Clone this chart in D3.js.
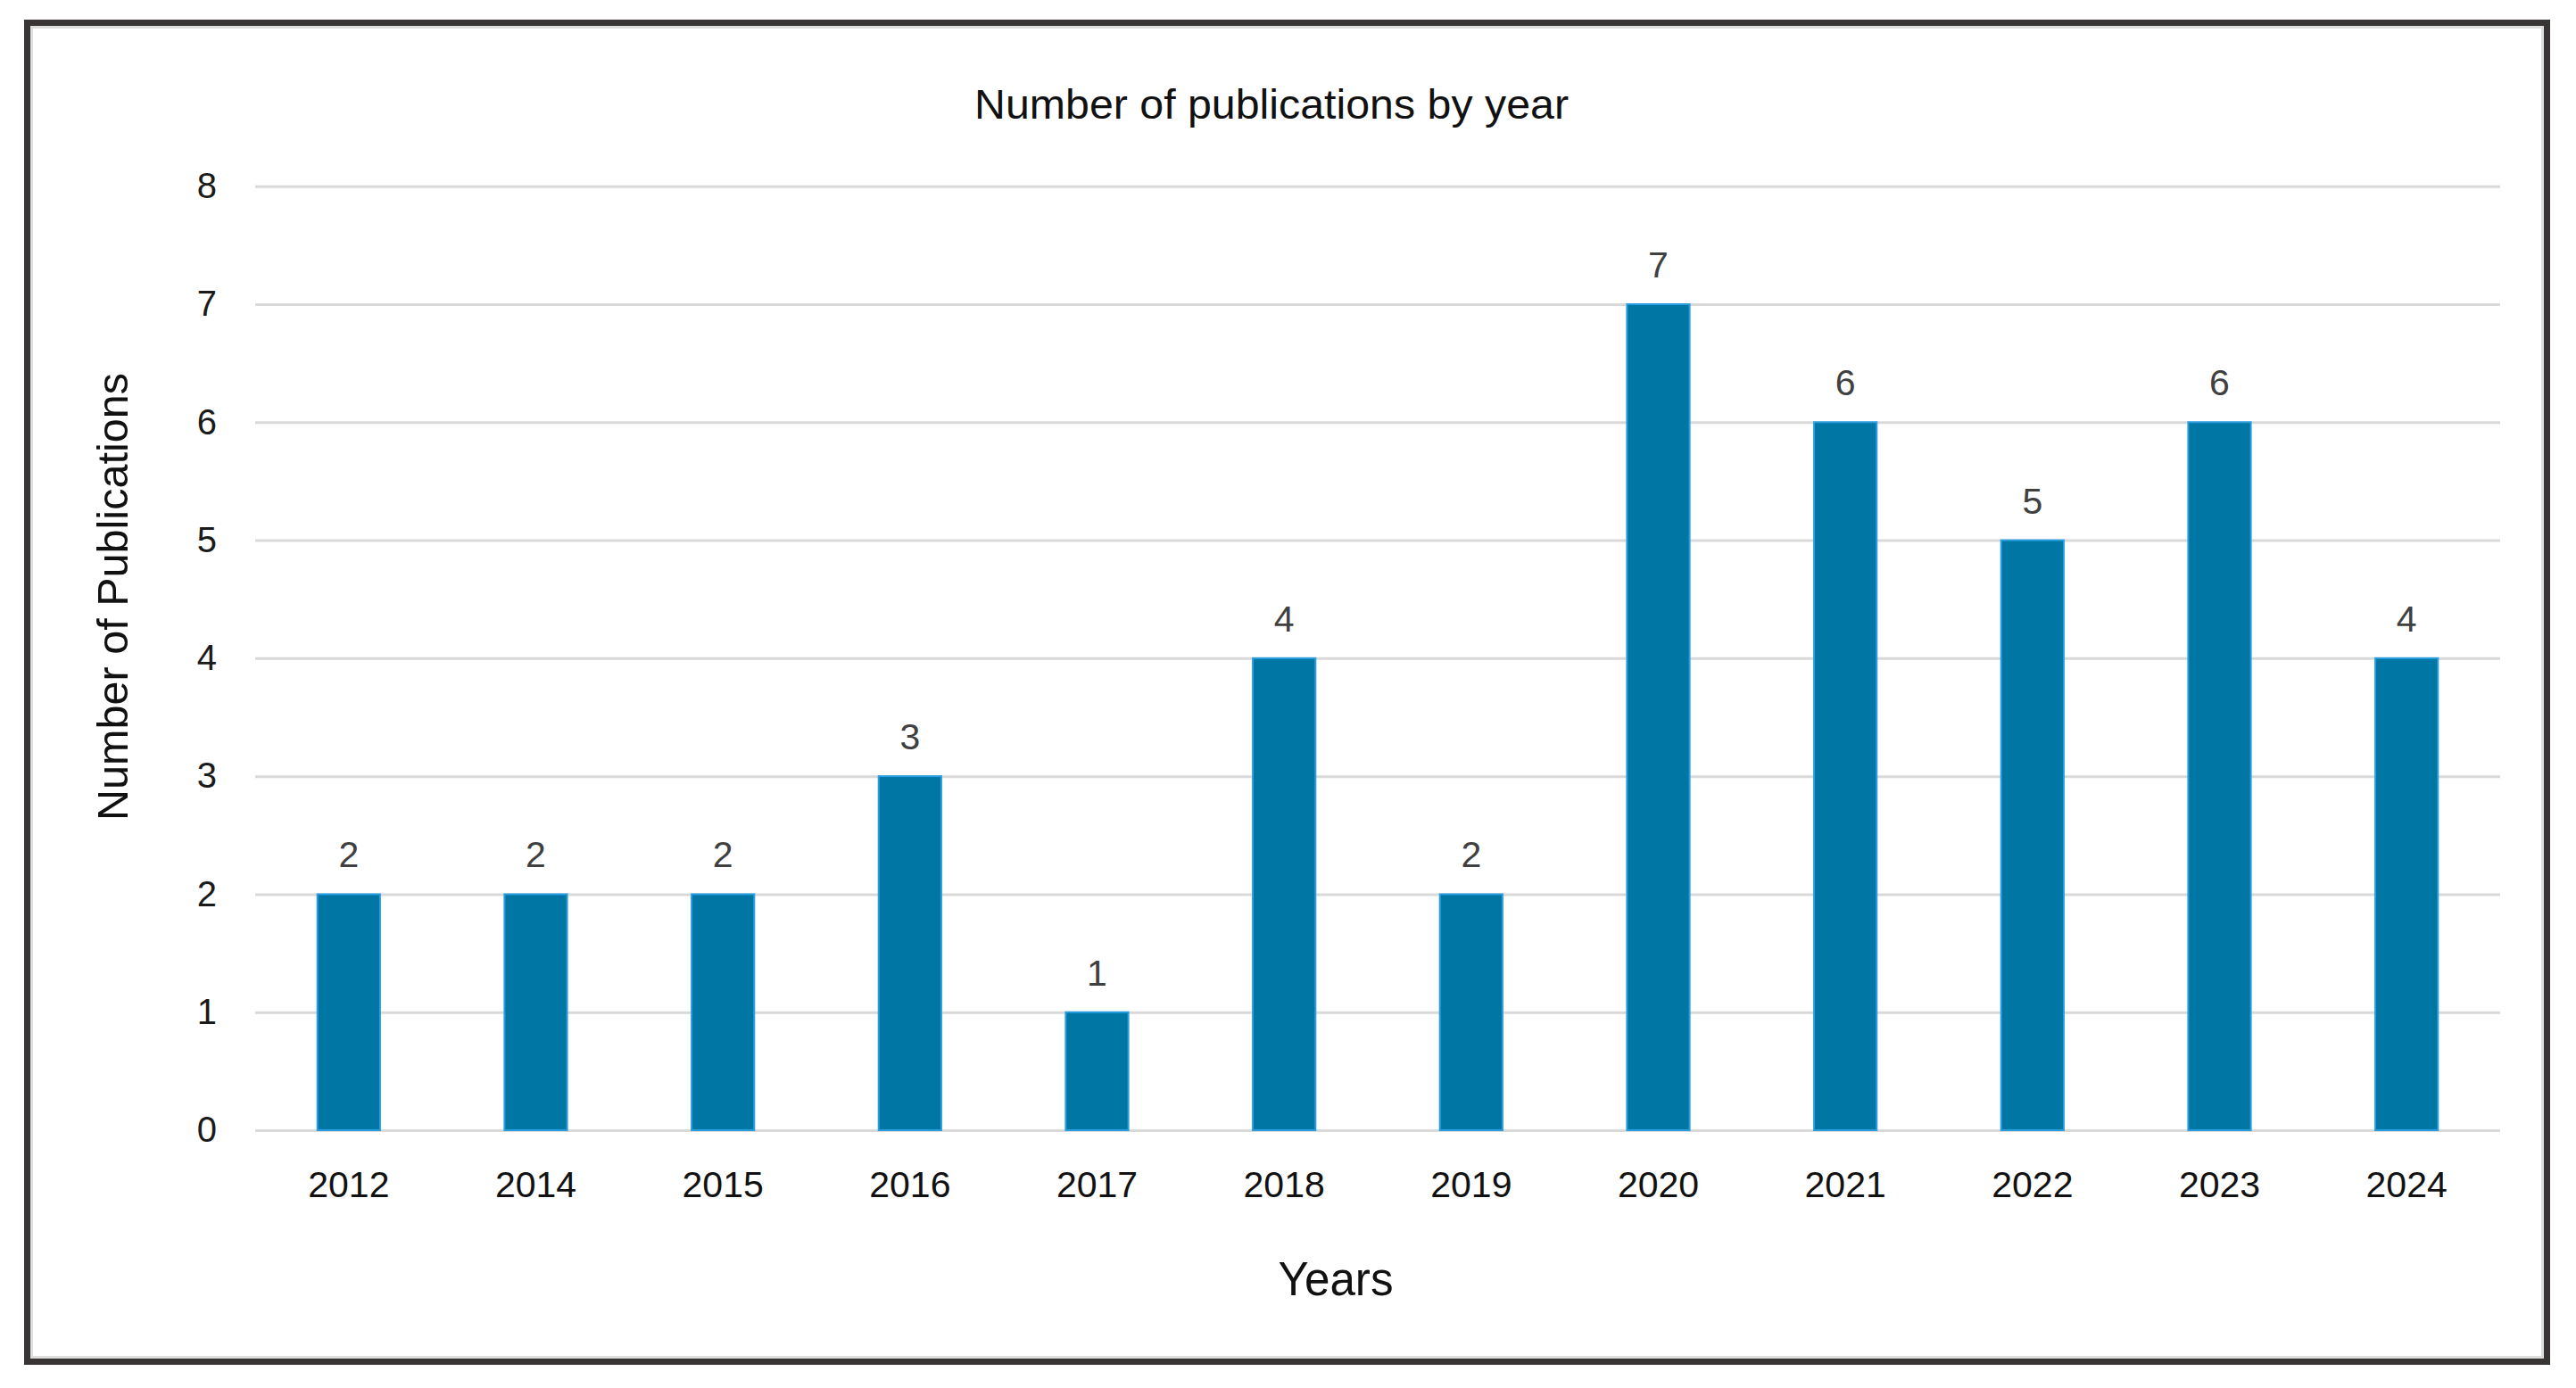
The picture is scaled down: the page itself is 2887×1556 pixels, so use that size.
<!DOCTYPE html>
<html>
<head>
<meta charset="utf-8">
<script src="https://cdn.jsdelivr.net/npm/d3@7"></script>
<style>
  body { margin: 0; background: #fff; }
  text { font-family: "Liberation Sans", Arial, sans-serif; }
</style>
</head>
<body>
<div id="chart"></div>
<script>
// chart data
const years = ["2012", "2014", "2015", "2016", "2017", "2018", "2019", "2020", "2021", "2022", "2023", "2024"];
const publications = [2, 2, 2, 3, 1, 4, 2, 7, 6, 5, 6, 4];
const yTicks = [0, 1, 2, 3, 4, 5, 6, 7, 8];

const svgWidth = 2887,
  svgHeight = 1556;

const svg = d3
  .select("#chart")
  .append("svg")
  .attr("width", svgWidth)
  .attr("height", svgHeight);

svg.append("rect").attr("width", svgWidth).attr("height", svgHeight).attr("fill", "#fff");

// outer frame: dark border with a thin light line inside
svg
  .append("rect")
  .attr("x", 30.5)
  .attr("y", 25.5)
  .attr("width", 2824)
  .attr("height", 1501)
  .attr("fill", "none")
  .attr("stroke", "#393534")
  .attr("stroke-width", 7);
svg
  .append("rect")
  .attr("x", 35.5)
  .attr("y", 30.5)
  .attr("width", 2814)
  .attr("height", 1491)
  .attr("fill", "none")
  .attr("stroke", "#dedede")
  .attr("stroke-width", 3);

const plotLeft = 286,
  plotRight = 2802,
  plotTop = 208.7,
  plotBottom = 1267;

const x = d3
  .scaleBand()
  .domain(years)
  .range([plotLeft, plotRight])
  .paddingInner(0.665)
  .paddingOuter(0.3325);

const y = d3.scaleLinear().domain([0, 8]).range([plotBottom, plotTop]);

// y axis + gridlines
const yAxis = svg
  .append("g")
  .attr("transform", `translate(${plotLeft},0)`)
  .call(
    d3
      .axisLeft(y)
      .tickValues(yTicks)
      .tickSize(-(plotRight - plotLeft))
      .tickPadding(43)
      .tickFormat(d3.format("d"))
  );
yAxis.select(".domain").remove();
yAxis.selectAll(".tick line").attr("stroke", "#d9d9d9").attr("stroke-width", 3);
yAxis
  .selectAll(".tick text")
  .attr("fill", "#1a1a1a")
  .style("font-size", "40px");

// x axis labels
const xAxis = svg
  .append("g")
  .attr("transform", `translate(0,${plotBottom})`)
  .call(d3.axisBottom(x).tickSize(0).tickPadding(46));
xAxis.select(".domain").remove();
xAxis
  .selectAll(".tick text")
  .attr("fill", "#111")
  .style("font-size", "41px");

// bars
svg
  .selectAll("rect.bar")
  .data(publications)
  .enter()
  .append("rect")
  .attr("class", "bar")
  .attr("x", (d, i) => x(years[i]))
  .attr("y", (d) => y(d))
  .attr("width", x.bandwidth())
  .attr("height", (d) => y(0) - y(d))
  .attr("fill", "#0076a5")
  .attr("stroke", "#2a9fe0")
  .attr("stroke-width", 2);

// value labels above bars
svg
  .selectAll("text.value")
  .data(publications)
  .enter()
  .append("text")
  .attr("class", "value")
  .attr("x", (d, i) => x(years[i]) + x.bandwidth() / 2)
  .attr("y", (d) => y(d) - 30)
  .attr("text-anchor", "middle")
  .attr("fill", "#404040")
  .style("font-size", "41px")
  .text((d) => d);

// title
svg
  .append("text")
  .attr("x", 1425)
  .attr("y", 133)
  .attr("text-anchor", "middle")
  .attr("fill", "#111")
  .attr("textLength", 666)
  .attr("lengthAdjust", "spacingAndGlyphs")
  .style("font-size", "46px")
  .text("Number of publications by year");

// axis titles
svg
  .append("text")
  .attr("transform", "translate(143,669) rotate(-90)")
  .attr("text-anchor", "middle")
  .attr("fill", "#111")
  .attr("textLength", 502)
  .attr("lengthAdjust", "spacingAndGlyphs")
  .style("font-size", "48px")
  .text("Number of Publications");

svg
  .append("text")
  .attr("x", 1497)
  .attr("y", 1452)
  .attr("text-anchor", "middle")
  .attr("fill", "#111")
  .attr("textLength", 129)
  .attr("lengthAdjust", "spacingAndGlyphs")
  .style("font-size", "54px")
  .text("Years");
</script>
</body>
</html>
